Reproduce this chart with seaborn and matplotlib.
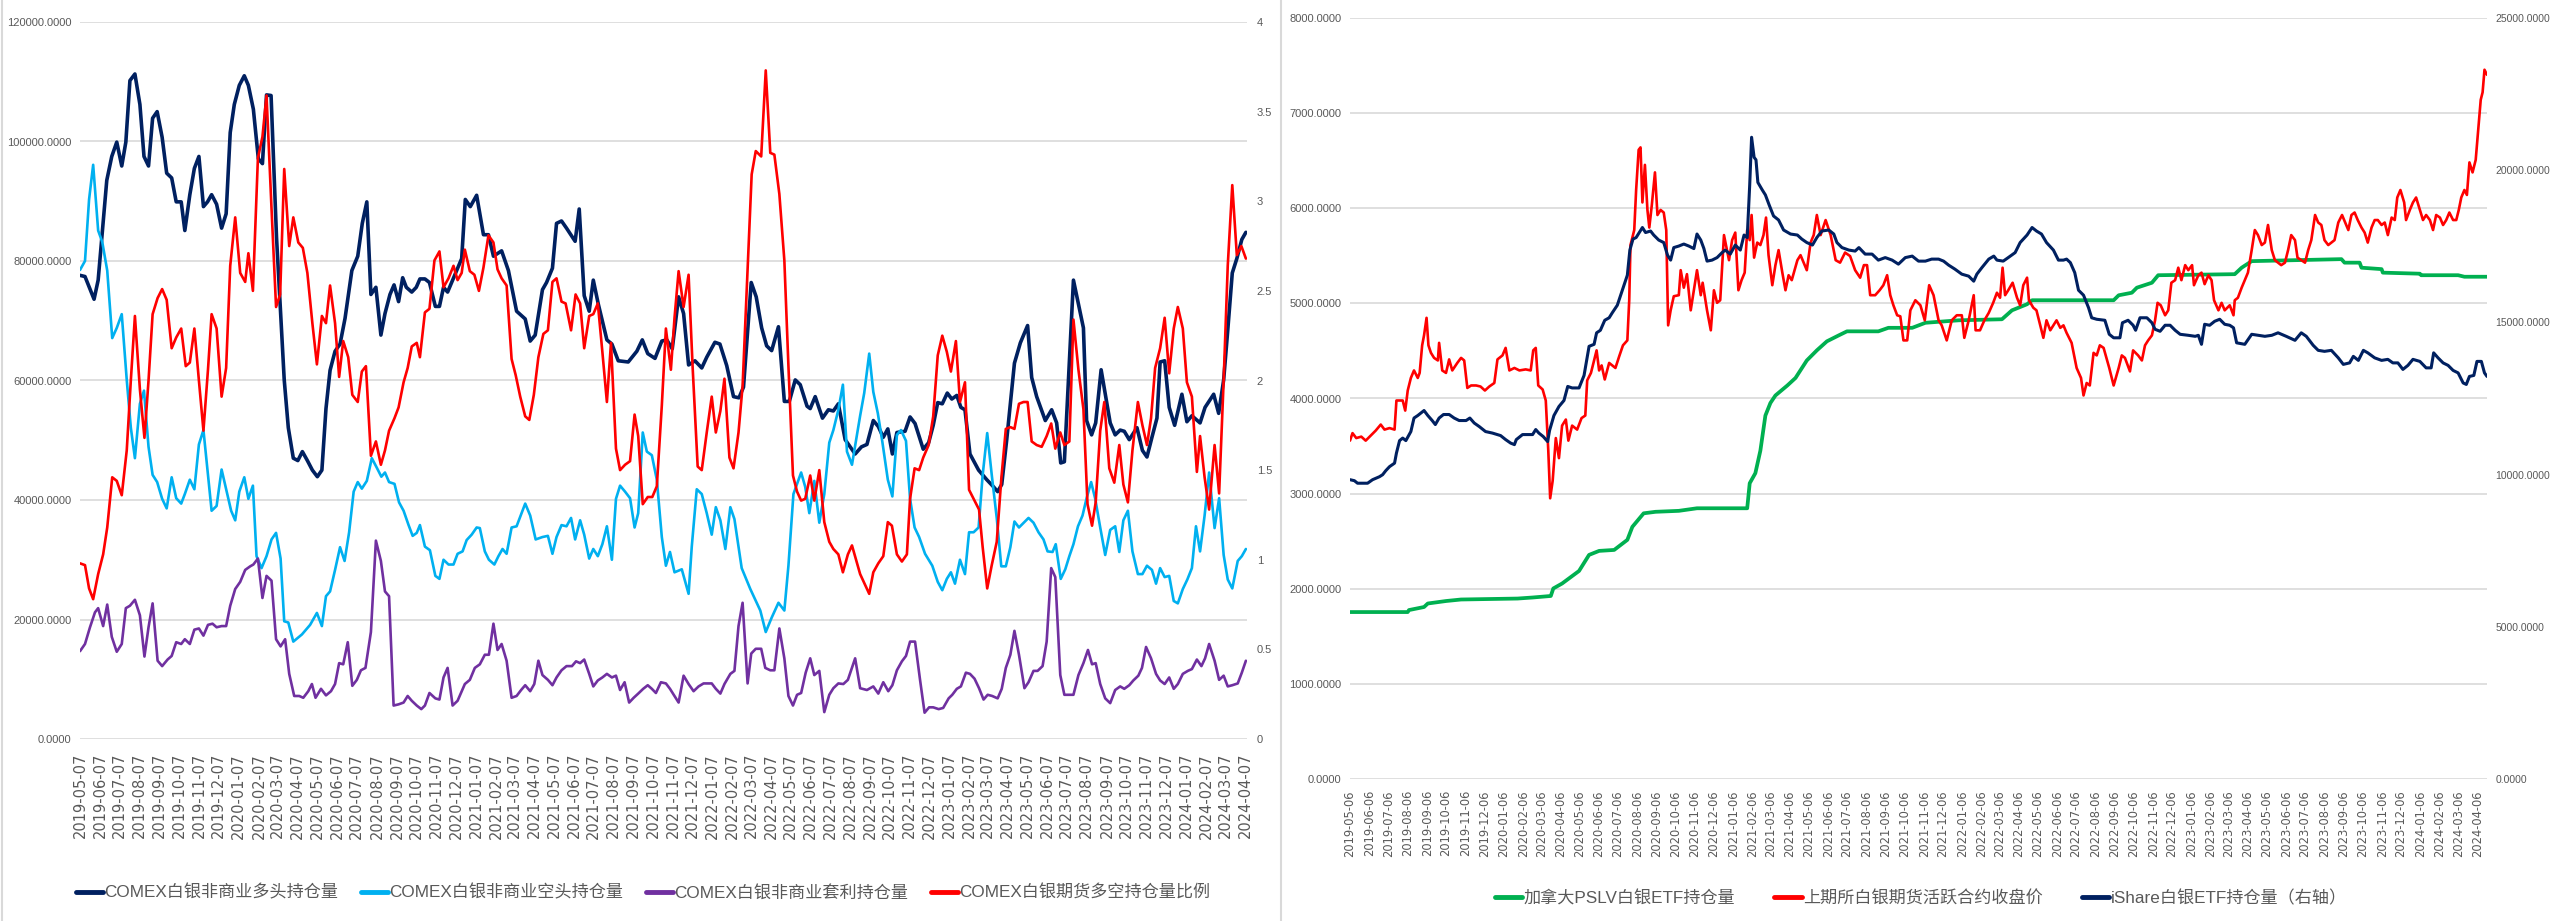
import matplotlib
matplotlib.use("Agg")
import matplotlib.pyplot as plt
from matplotlib.lines import Line2D
import seaborn as sns
import numpy as np
import pandas as pd

# ---------------- data: left chart (weekly, x = weeks since 2019-05-07) ----------------
L_START = "2019-05-07"

LONG_POS = [(0,77600),(1.1,77400),(3.1,73600),(4.0,76800),(5.9,93500),(7.0,97500),(8.1,99900),(9.2,95900),(10.1,99900),(11.0,110200),(12.1,111300),(13.2,106200),(14.1,97500),(15.1,95900),(16.0,103900),(17.0,105000),(18.1,100700),(19.1,94700),(20.2,93900),(21.2,89900),(22.3,89900),(23.1,85100),(24.2,91100),(25.2,95500),(26.2,97500),(27.2,89100),(28.1,89900),(29.0,91100),(30.1,89500),(31.2,85500),(32.2,87900),(33.1,101500),(34.0,106200),(35.1,109400),(36.2,111000),(37.1,109400),(38.2,105400),(39.3,97100),(40.2,96300),(41.1,107800),(42.1,107700),(43.3,84000),(45.0,60100),(45.9,52100),(47.0,47000),(48.0,46600),(49.0,48100),(50.1,46600),(51.2,45000),(52.3,43900),(53.3,45000),(54.2,55300),(55.1,61700),(56.2,64900),(57.3,66100),(58.4,70400),(59.9,78400),(61.2,80800),(62.2,86300),(63.2,89900),(64.1,74400),(65.2,75600),(66.3,67600),(67.2,71200),(68.3,74400),(69.2,76000),(70.2,73200),(71.1,77200),(71.9,75600),(73.1,74800),(74.1,75600),(74.9,77000),(76.0,77000),(77.0,76400),(78.3,72400),(79.2,72400),(80.1,75600),(81.0,74800),(83.0,78400),(84.1,80400),(84.9,90300),(86.0,89100),(87.4,91000),(88.9,84400),(90.0,84400),(91.1,80800),(92.9,81700),(94.4,78400),(96.2,71600),(98.1,70300),(99.2,66600),(100.3,67600),(101.9,75200),(102.8,76400),(104.1,78800),(105.0,86300),(106.1,86700),(107.2,85500),(109.1,83300),(110.0,88700),(111.1,74200),(112.2,71600),(113.1,76800),(114.2,72800),(116.1,66800),(117.2,66100),(118.6,63300),(120.8,63100),(122.7,64900),(123.9,66800),(125.1,64500),(126.7,63700),(128.2,66600),(129.3,66800),(130.5,65300),(131.9,74000),(133.0,71200),(134.1,62600),(135.5,63300),(137.0,62100),(138.1,63900),(139.9,66400),(141.0,66100),(142.5,62500),(144.0,57300),(145.2,57100),(146.2,58900),(147.9,76400),(149.0,74000),(150.2,68800),(151.3,65800),(152.4,65000),(153.9,69000),(155.2,56500),(156.3,56500),(157.6,60100),(158.7,59300),(160.2,55700),(160.9,55300),(162.0,57300),(163.6,53700),(164.9,55100),(166.0,54900),(167.1,56100),(168.6,50100),(170.8,47700),(172.2,48900),(173.4,49300),(174.8,53300),(175.9,52300),(177.0,50500),(178.0,51900),(179.0,47700),(180.0,51300),(181.8,51500),(182.9,53900),(184.0,52800),(185.8,48500),(187.0,49600),(188.0,52500),(189.0,56300),(190.0,56100),(191.1,57900),(192.1,56900),(193.2,57500),(194.1,55500),(195.0,55100),(196.1,47700),(198.0,45000),(199.8,43400),(201.3,42200),(202.2,41400),(203.1,42600),(204.2,50100),(205.9,62900),(207.2,66300),(208.8,69200),(209.7,60500),(210.8,57300),(212.7,53300),(214.1,55100),(215.2,52900),(216.1,46200),(216.9,46400),(218.9,76800),(220.0,72800),(221.1,68800),(221.8,53300),(222.9,50900),(223.8,52900),(225.0,61800),(226.0,57300),(227.0,52900),(228.1,50900),(229.2,51700),(230.1,51500),(231.2,50100),(232.9,52100),(234.1,48300),(235.1,47200),(236.2,50500),(237.3,53700),(238.0,63100),(239.0,63300),(240.0,55500),(241.2,52500),(242.8,57700),(243.9,53100),(245.0,54100),(246.8,52900),(247.9,55500),(249.8,57700),(250.9,54500),(252.0,60100),(252.9,68400),(253.9,78000),(254.9,80400),(256.0,83600),(256.9,84800)]

SHORT_POS = [(0,78500),(1.1,80000),(2.0,90300),(2.9,96100),(4.0,85100),(4.9,83200),(6.0,78400),(7.1,67100),(8.1,68800),(9.2,71100),(10.3,60100),(11.2,52100),(12.1,47000),(13.2,56100),(14.1,58300),(15.1,48900),(16.0,44200),(17.0,43000),(18.1,40200),(19.1,38600),(20.2,43800),(21.2,40300),(22.3,39400),(23.1,41000),(24.2,43400),(25.2,41800),(26.2,49300),(27.2,51700),(28.1,45000),(29.0,38200),(30.1,39000),(31.2,45100),(32.2,41800),(33.3,38200),(34.2,36600),(35.1,41400),(36.2,43800),(37.1,40200),(38.1,42400),(38.9,30600),(40.0,28600),(41.1,30600),(42.2,33400),(43.2,34500),(44.2,30200),(45.0,19700),(45.9,19500),(47.0,16300),(48.9,17500),(50.7,19100),(52.2,21100),(53.3,18900),(54.2,23900),(55.1,24700),(56.2,28300),(57.3,32100),(58.3,29800),(59.3,34600),(60.3,41400),(61.2,43000),(62.1,41900),(63.2,43200),(64.3,47000),(65.4,45400),(66.4,43900),(67.2,44600),(68.1,43000),(69.3,42700),(70.3,39600),(71.3,38200),(72.4,35800),(73.3,34000),(74.2,34500),(74.9,35800),(76.0,32200),(77.1,31600),(78.3,27300),(79.2,26800),(80.1,30000),(81.2,29200),(82.3,29200),(83.2,31000),(84.3,31400),(85.2,33300),(86.3,34200),(87.4,35400),(88.1,35300),(89.2,31400),(90.1,30000),(91.3,29200),(92.2,30600),(93.1,31800),(94.0,31000),(95.1,35400),(96.2,35600),(98.1,39400),(99.2,37400),(100.4,33400),(101.9,33800),(103.1,34000),(104.1,31000),(105.0,33800),(106.1,35800),(107.2,35600),(108.2,37000),(109.1,33400),(110.2,36600),(111.1,34200),(112.2,30200),(113.1,31800),(114.1,30600),(115.1,32600),(116.1,35600),(117.2,30000),(118.1,40200),(119.0,42400),(120.1,41400),(121.2,40300),(122.2,35400),(123.0,37800),(124.0,51300),(124.9,48100),(126.0,47500),(127.1,43400),(128.2,33800),(129.1,29000),(130.0,31300),(131.0,27900),(132.6,28400),(134.1,24300),(134.8,32200),(135.9,41800),(137.0,41000),(138.1,37800),(139.2,34200),(140.1,38800),(141.1,36600),(142.2,31800),(143.3,38800),(144.2,36800),(145.8,28600),(147.7,25100),(149.9,21500),(151.1,17900),(152.4,20300),(153.9,22800),(155.2,21500),(156.1,29000),(157.2,41000),(158.9,44600),(159.8,42200),(160.7,37800),(161.8,43200),(162.9,36200),(164.0,41000),(165.1,49600),(166.0,51700),(167.1,55100),(168.1,59300),(169.0,48100),(170.1,45900),(171.9,54100),(172.8,57900),(173.9,64500),(174.8,58100),(175.8,54500),(176.8,49700),(178.0,43400),(179.0,40600),(180.0,50900),(180.9,51700),(182.0,49900),(182.9,40200),(183.9,35400),(184.9,33800),(186.2,31000),(187.8,29000),(189.0,26300),(190.0,24900),(191.0,26800),(191.9,27900),(192.8,26000),(193.9,30000),(195.0,27600),(195.9,34600),(196.9,34600),(198.0,35400),(198.9,44200),(199.9,51200),(200.9,44200),(202.0,37000),(203.0,28900),(204.0,28900),(205.0,32100),(205.9,36400),(206.9,35400),(209.0,37000),(210.1,36200),(211.2,34600),(212.3,33400),(213.2,31400),(214.3,31300),(215.0,32600),(216.1,26800),(217.1,28400),(218.0,30600),(218.9,32600),(219.9,35600),(220.9,37400),(221.8,40300),(222.8,43000),(223.7,40200),(224.8,35400),(225.9,30800),(227.0,35000),(228.1,35600),(229.0,31300),(229.9,36600),(230.9,38200),(231.9,31400),(233.1,27600),(234.1,27600),(235.1,29000),(236.2,28300),(237.1,26000),(238.0,28600),(239.0,27100),(240.0,27300),(241.0,23100),(241.9,22700),(243.0,25100),(244.0,26700),(245.0,28600),(245.9,35600),(246.8,31400),(247.8,37400),(248.8,44600),(250.0,35300),(251.0,40300),(252.0,30800),(252.9,26700),(253.9,25200),(255.1,29800),(256.0,30600),(256.9,31800)]

SPREAD_POS = [(0,14700),(1.1,15900),(2.2,18700),(3.3,21200),(4.0,21900),(5.1,18900),(6.0,22500),(7.0,17100),(8.1,14600),(9.2,15900),(10.1,21900),(11.0,22300),(12.1,23300),(13.2,20700),(14.2,13800),(15.1,18700),(16.0,22700),(17.1,13100),(18.1,12200),(19.3,13300),(20.2,13900),(21.2,16200),(22.3,15900),(23.1,16700),(24.2,15900),(25.2,18300),(26.2,18500),(27.2,17300),(28.2,19100),(29.2,19300),(30.1,18700),(31.2,18900),(32.2,18900),(33.1,22300),(34.2,25100),(35.3,26300),(36.4,28300),(37.5,28900),(38.2,29200),(39.2,30200),(40.2,23600),(41.1,27300),(42.2,26500),(43.2,16700),(44.2,15500),(45.2,16700),(46.1,10900),(47.2,7200),(48.3,7200),(49.2,6900),(50.3,8000),(51.1,9200),(51.9,6900),(53.1,8400),(54.2,7300),(55.3,8000),(56.2,9200),(57.1,12700),(58.0,12500),(59.0,16200),(60.0,8900),(61.0,9900),(61.9,11500),(62.9,11900),(64.1,17900),(65.2,33200),(66.3,29800),(67.2,24700),(68.1,23900),(69.1,5600),(70.2,5800),(71.3,6100),(72.2,7200),(73.1,6400),(74.2,5600),(75.2,5000),(76.0,5600),(77.0,7700),(78.3,6800),(79.2,6600),(80.1,10300),(81.0,11900),(82.1,5600),(83.2,6400),(84.8,9200),(85.9,9900),(87.0,11900),(88.1,12500),(89.2,14100),(90.1,14100),(91.1,19300),(92.0,14900),(92.9,15900),(94.0,13100),(95.1,6900),(96.2,7200),(97.2,8200),(98.1,9000),(99.2,8000),(100.1,9200),(101.0,13100),(101.9,10700),(103.1,9900),(104.1,9000),(105.0,10300),(106.1,11500),(107.2,12200),(108.4,12200),(109.3,13000),(110.2,12700),(111.1,13300),(112.2,10900),(113.1,8800),(114.1,9800),(115.1,10300),(116.1,10900),(117.2,10300),(118.1,10600),(119.0,8200),(120.0,9500),(121.0,6100),(122.0,6900),(123.0,7600),(124.1,8400),(125.1,9000),(126.0,8400),(126.9,7700),(128.0,9500),(129.1,9300),(130.0,8400),(131.0,7200),(131.9,6100),(133.0,10600),(134.1,9200),(135.2,8000),(136.3,8800),(137.4,9300),(139.2,9300),(140.1,8400),(141.1,7600),(142.0,9200),(143.3,10900),(144.2,11400),(145.1,18900),(146.0,22800),(147.1,9300),(147.9,14300),(148.9,15100),(150.1,15100),(151.0,11900),(152.1,11500),(153.0,11500),(154.1,18500),(155.2,13500),(156.1,7200),(157.1,5600),(158.0,7400),(158.9,7700),(159.9,11100),(160.9,13500),(161.8,10700),(162.9,11400),(164.0,4500),(165.1,7400),(166.0,8500),(167.1,9300),(168.2,9200),(169.2,9900),(170.8,13500),(171.9,8500),(173.4,8200),(174.8,8800),(175.9,7600),(177.0,9500),(178.1,8000),(179.0,9000),(180.0,11500),(181.1,13000),(182.0,13900),(182.9,16300),(184.0,16300),(185.1,9900),(186.1,4400),(187.1,5300),(188.0,5300),(189.2,5000),(190.2,5200),(191.4,6800),(192.2,7400),(193.2,8400),(194.1,8800),(195.2,11100),(196.1,10900),(197.1,10100),(198.1,8500),(199.1,6600),(200.0,7400),(201.0,7200),(202.2,6800),(203.1,8400),(204.0,11900),(205.0,14100),(205.9,18100),(206.9,14100),(208.1,8500),(209.0,9500),(210.1,11400),(211.0,11400),(212.1,12200),(213.0,16300),(214.0,28600),(214.9,27100),(216.0,10700),(216.9,7400),(218.9,7400),(220.0,10700),(221.1,12700),(222.1,14900),(223.0,12500),(223.8,12700),(224.8,9200),(225.9,6800),(227.0,6000),(228.1,8200),(229.2,8800),(230.1,8400),(231.2,9000),(232.1,9800),(233.2,10600),(234.0,11900),(234.9,15400),(236.0,13500),(237.1,10900),(238.0,9800),(239.0,9200),(240.0,10300),(241.0,8400),(241.9,9200),(243.0,10900),(244.1,11400),(245.0,11700),(246.1,13300),(247.1,12200),(247.9,13500),(248.8,15900),(250.0,13100),(251.0,9900),(252.0,10600),(252.9,8800),(253.9,9000),(255.1,9300),(256.0,11100),(256.9,13100)]

LS_RATIO = [(0,0.98),(1.1,0.97),(2.0,0.84),(2.9,0.78),(4.0,0.92),(5.1,1.03),(6.0,1.18),(7.1,1.46),(8.1,1.44),(9.2,1.36),(10.3,1.61),(11.2,2.00),(12.1,2.36),(13.2,1.95),(14.2,1.68),(15.1,2.00),(16.0,2.37),(17.1,2.46),(18.1,2.51),(19.1,2.45),(20.2,2.18),(21.2,2.24),(22.3,2.29),(23.3,2.08),(24.2,2.10),(25.2,2.29),(26.2,2.00),(27.2,1.72),(28.2,2.06),(29.0,2.37),(30.1,2.29),(31.2,1.91),(32.2,2.07),(33.1,2.64),(34.2,2.91),(35.3,2.60),(36.4,2.55),(37.1,2.71),(38.1,2.50),(39.2,3.24),(40.2,3.36),(41.1,3.59),(42.2,2.96),(43.2,2.41),(44.1,2.48),(45.0,3.18),(46.1,2.75),(47.0,2.91),(48.1,2.77),(49.1,2.74),(50.1,2.60),(51.2,2.32),(52.2,2.09),(53.3,2.36),(54.2,2.32),(55.1,2.53),(56.2,2.32),(57.1,2.02),(58.0,2.22),(59.1,2.13),(60.0,1.92),(61.2,1.88),(62.1,2.05),(63.0,2.08),(64.1,1.58),(65.2,1.66),(66.3,1.53),(67.2,1.61),(68.1,1.72),(69.3,1.79),(70.2,1.85),(71.3,1.99),(72.2,2.07),(73.1,2.19),(74.2,2.21),(74.9,2.13),(76.0,2.38),(77.0,2.40),(78.1,2.67),(79.2,2.72),(80.1,2.52),(81.2,2.57),(82.3,2.64),(83.2,2.56),(84.1,2.60),(84.8,2.73),(85.9,2.61),(86.9,2.59),(87.9,2.50),(88.9,2.63),(90.0,2.81),(91.1,2.77),(92.0,2.62),(92.9,2.57),(94.0,2.53),(95.1,2.12),(96.0,2.03),(97.0,1.91),(98.1,1.80),(99.0,1.78),(100.0,1.92),(101.0,2.13),(102.1,2.26),(103.1,2.28),(104.1,2.55),(105.0,2.57),(106.1,2.44),(107.0,2.43),(108.2,2.28),(109.2,2.48),(110.2,2.43),(111.1,2.18),(112.2,2.36),(113.1,2.37),(114.1,2.43),(115.1,2.16),(116.1,1.88),(117.0,2.21),(118.1,1.62),(119.0,1.50),(120.1,1.53),(121.2,1.55),(122.2,1.81),(123.0,1.69),(124.0,1.31),(125.1,1.35),(126.1,1.35),(127.1,1.41),(128.2,1.86),(129.1,2.29),(130.2,2.06),(131.0,2.35),(131.9,2.61),(133.0,2.41),(134.1,2.59),(135.0,2.07),(136.1,1.52),(137.0,1.50),(138.1,1.71),(139.2,1.91),(140.1,1.71),(141.1,1.83),(142.0,2.01),(143.1,1.57),(144.0,1.51),(145.1,1.71),(146.0,1.97),(147.0,2.56),(148.0,3.15),(148.9,3.28),(150.1,3.25),(151.1,3.73),(152.1,3.27),(153.0,3.26),(154.1,3.04),(155.2,2.67),(156.1,2.08),(157.1,1.47),(158.0,1.38),(158.9,1.33),(159.8,1.34),(160.9,1.47),(161.8,1.33),(162.9,1.50),(164.0,1.21),(165.1,1.10),(166.0,1.06),(167.1,1.03),(168.1,0.93),(169.2,1.03),(170.1,1.08),(171.9,0.92),(172.8,0.87),(173.9,0.81),(174.8,0.93),(175.9,0.98),(177.0,1.02),(178.0,1.21),(178.9,1.19),(180.0,1.03),(181.1,0.99),(182.2,1.03),(182.9,1.34),(183.9,1.51),(184.9,1.50),(185.8,1.57),(187.0,1.64),(188.0,1.80),(189.0,2.14),(190.0,2.25),(191.0,2.16),(191.9,2.05),(193.0,2.22),(193.9,1.88),(195.0,1.99),(195.9,1.39),(197.1,1.33),(198.1,1.28),(198.9,1.07),(199.9,0.84),(200.9,0.97),(202.0,1.10),(203.0,1.45),(204.0,1.73),(205.0,1.74),(205.9,1.73),(206.9,1.87),(207.9,1.88),(208.8,1.88),(209.7,1.66),(210.8,1.64),(211.9,1.63),(213.0,1.69),(214.0,1.76),(214.9,1.62),(216.0,1.71),(216.9,1.64),(218.0,1.66),(218.9,2.34),(220.0,2.06),(221.1,1.84),(222.0,1.31),(223.0,1.19),(223.8,1.32),(224.8,1.72),(225.7,1.88),(226.8,1.51),(227.9,1.43),(229.0,1.64),(229.9,1.42),(230.9,1.32),(231.9,1.61),(233.1,1.88),(234.1,1.75),(235.1,1.64),(236.0,1.79),(236.9,2.07),(238.0,2.18),(239.0,2.35),(240.0,2.04),(241.0,2.29),(241.9,2.41),(243.0,2.29),(243.9,1.99),(245.0,1.91),(246.1,1.49),(246.8,1.69),(247.8,1.46),(248.8,1.28),(250.0,1.64),(251.0,1.37),(252.0,2.00),(252.9,2.64),(253.9,3.09),(254.9,2.70),(255.9,2.75),(256.9,2.68)]

L_LABELS = ["COMEX白银非商业多头持仓量", "COMEX白银非商业空头持仓量",
            "COMEX白银非商业套利持仓量", "COMEX白银期货多空持仓量比例"]

# ---------------- data: right chart (daily, x = days since 2019-05-06) ----------------
R_START = "2019-05-06"

PSLV_HOLD = [(0,1755),(92,1755),(94,1776),(118,1808),(124,1845),(153,1871),(177,1887),(267,1897),(291,1908),(320,1924),(324,2003),(338,2055),(365,2187),(381,2356),(397,2398),(421,2408),(442,2514),(450,2651),(468,2793),(487,2809),(524,2819),(553,2846),(633,2846),(637,3109),(646,3215),(654,3452),(662,3821),(670,3953),(678,4032),(697,4137),(710,4216),(728,4400),(744,4506),(760,4601),(779,4664),(792,4706),(842,4706),(858,4743),(896,4743),(917,4796),(970,4822),(1039,4833),(1055,4927),(1079,4991),(1087,5033),(1217,5033),(1225,5085),(1246,5112),(1254,5165),(1278,5217),(1288,5296),(1410,5307),(1421,5375),(1437,5444),(1580,5465),(1585,5428),(1609,5428),(1612,5375),(1644,5360),(1646,5323),(1705,5312),(1707,5296),(1766,5296),(1776,5280),(1812,5280)]

SHFE_CLOSE = [(0,3557),(4,3636),(10,3584),(18,3599),(25,3557),(33,3610),(41,3663),(49,3726),(55,3673),(63,3689),(71,3673),(74,3979),(84,3979),(88,3873),(92,4084),(97,4216),(102,4295),(108,4216),(111,4269),(115,4559),(118,4664),(122,4848),(125,4559),(129,4480),(134,4427),(140,4400),(142,4585),(147,4295),(153,4269),(158,4411),(163,4295),(171,4374),(177,4427),(182,4400),(187,4111),(193,4137),(201,4137),(208,4126),(215,4084),(222,4126),(230,4163),(235,4411),(243,4453),(248,4532),(254,4295),(262,4321),(270,4295),(280,4306),(288,4295),(292,4506),(296,4532),(300,4137),(307,4095),(312,3979),(316,3452),(319,2951),(323,3136),(328,3584),(333,3373),(338,3715),(344,3779),(348,3557),(354,3715),(362,3673),(369,3794),(375,3821),(378,4190),(384,4269),(389,4400),(393,4506),(397,4295),(401,4348),(406,4200),(413,4374),(423,4321),(429,4443),(435,4559),(442,4611),(445,5033),(447,5613),(453,5771),(456,6192),(460,6614),(463,6640),(466,6061),(470,6456),(474,5982),(477,5797),(481,6034),(486,6377),(490,5929),(495,5982),(500,5955),(504,5771),(507,4769),(511,4927),(516,5075),(524,5086),(527,5349),(532,5165),(537,5307),(543,4927),(548,5138),(553,5349),(559,5086),(562,5217),(569,4927),(575,4717),(580,5138),(585,5006),(590,5033),(596,5718),(604,5454),(609,5665),(614,5744),(619,5138),(624,5244),(629,5323),(633,5771),(637,5665),(640,5929),(644,5481),(649,5639),(654,5613),(659,5718),(663,5902),(667,5507),(673,5191),(678,5402),(683,5560),(689,5323),(694,5138),(699,5296),(704,5244),(713,5454),(718,5507),(723,5428),(728,5349),(734,5639),(739,5718),(744,5929),(750,5718),(758,5876),(766,5718),(774,5454),(781,5428),(789,5534),(797,5497),(805,5349),(813,5270),(819,5402),(824,5402),(829,5086),(837,5086),(844,5138),(850,5191),(856,5296),(861,5086),(866,4980),(872,4875),(877,4864),(882,4611),(888,4611),(893,4927),(901,5033),(909,4980),(916,4822),(923,5191),(930,5086),(938,4822),(943,4769),(951,4611),(959,4822),(967,4875),(975,4875),(979,4638),(986,4822),(994,5086),(997,4717),(1004,4717),(1011,4822),(1018,4901),(1025,5006),(1031,5112),(1036,5059),(1040,5375),(1044,5086),(1049,5138),(1056,5217),(1063,5059),(1068,4980),(1073,5191),(1079,5270),(1082,5033),(1089,4954),(1094,4927),(1100,4769),(1105,4638),(1110,4822),(1116,4717),(1121,4769),(1126,4822),(1132,4743),(1137,4769),(1142,4690),(1150,4585),(1158,4321),(1165,4216),(1169,4032),(1174,4163),(1179,4137),(1185,4480),(1190,4453),(1195,4559),(1201,4532),(1210,4321),(1217,4137),(1225,4321),(1230,4453),(1235,4427),(1243,4285),(1248,4506),(1256,4453),(1262,4400),(1267,4559),(1272,4611),(1278,4664),(1283,4822),(1287,5006),(1292,4980),(1299,4875),(1304,4927),(1309,5217),(1315,5244),(1320,5375),(1325,5244),(1331,5402),(1336,5349),(1342,5402),(1345,5191),(1352,5296),(1357,5323),(1362,5202),(1368,5296),(1373,5244),(1377,5033),(1384,4927),(1389,5006),(1394,4927),(1402,4980),(1408,4875),(1410,5033),(1415,5059),(1421,5165),(1426,5244),(1431,5323),(1437,5560),(1442,5771),(1447,5718),(1453,5613),(1458,5639),(1463,5824),(1469,5560),(1474,5454),(1479,5428),(1484,5402),(1490,5428),(1495,5560),(1500,5718),(1506,5665),(1510,5481),(1516,5454),(1522,5428),(1527,5560),(1532,5665),(1538,5929),(1543,5850),(1548,5824),(1553,5665),(1559,5613),(1564,5639),(1569,5665),(1575,5850),(1581,5929),(1586,5850),(1591,5771),(1596,5929),(1601,5955),(1606,5876),(1612,5797),(1617,5744),(1622,5639),(1628,5797),(1633,5876),(1638,5876),(1644,5824),(1649,5850),(1654,5718),(1660,5902),(1665,5876),(1669,6113),(1674,6192),(1680,6061),(1683,5876),(1689,5982),(1694,6061),(1699,6113),(1705,5982),(1710,5876),(1715,5929),(1721,5876),(1726,5771),(1731,5929),(1737,5902),(1742,5824),(1747,5876),(1752,5955),(1758,5876),(1763,5876),(1767,5982),(1771,6113),(1776,6192),(1780,6140),(1784,6482),(1789,6377),(1794,6509),(1797,6745),(1802,7140),(1805,7219),(1808,7456),(1812,7403)]

ISHARE_HOLD = [(0,9833),(7,9800),(12,9717),(28,9717),(36,9833),(47,9931),(52,9997),(57,10129),(63,10261),(71,10376),(74,10706),(79,11117),(84,11200),(89,11117),(97,11414),(102,11858),(108,11941),(113,12023),(118,12105),(124,11941),(131,11776),(136,11644),(142,11858),(149,11974),(158,11974),(166,11858),(174,11776),(185,11776),(191,11858),(198,11694),(206,11578),(216,11414),(227,11364),(240,11282),(248,11150),(256,11035),(262,10985),(265,11150),(275,11315),(291,11315),(296,11480),(301,11364),(308,11249),(315,11084),(318,11447),(325,11941),(333,12237),(341,12435),(347,12896),(354,12847),(365,12847),(373,13258),(381,14214),(389,14280),(393,14658),(399,14741),(406,15070),(413,15152),(418,15317),(426,15564),(434,16058),(442,16552),(446,17376),(451,17738),(456,17788),(461,17952),(466,18117),(471,17952),(479,18002),(484,17870),(492,17705),(500,17623),(506,17211),(511,17046),(516,17458),(524,17508),(532,17574),(540,17508),(548,17425),(553,17903),(559,17705),(564,17425),(569,17013),(577,17046),(585,17129),(593,17293),(598,17376),(606,17244),(614,17541),(622,17376),(628,17870),(633,17788),(637,19517),(640,21082),(644,20423),(647,20340),(650,19599),(657,19352),(662,19188),(668,18858),(675,18496),(683,18364),(691,18035),(702,17903),(713,17870),(720,17738),(728,17623),(737,17541),(744,17788),(752,18002),(763,18035),(771,17903),(776,17623),(784,17458),(795,17376),(805,17343),(811,17458),(821,17244),(832,17244),(842,17046),(853,17129),(864,17046),(874,16914),(885,17129),(896,17178),(906,17013),(917,17013),(927,17079),(938,17079),(946,17013),(954,16882),(964,16750),(975,16585),(986,16519),(994,16354),(999,16585),(1007,16799),(1018,17079),(1026,17178),(1031,17046),(1041,17013),(1049,17129),(1060,17293),(1068,17623),(1079,17870),(1087,18117),(1094,18002),(1102,17903),(1110,17623),(1121,17376),(1129,17046),(1137,17046),(1142,17079),(1148,16964),(1155,16635),(1161,16058),(1169,15893),(1177,15482),(1182,15152),(1190,15103),(1203,15070),(1210,14609),(1217,14494),(1227,14494),(1231,14988),(1240,15070),(1248,14906),(1252,14741),(1259,15152),(1270,15152),(1278,14988),(1283,14774),(1291,14708),(1299,14906),(1307,14906),(1315,14741),(1323,14609),(1336,14576),(1347,14543),(1352,14576),(1357,14280),(1362,14938),(1370,14906),(1378,15037),(1386,15103),(1394,14938),(1402,14906),(1408,14823),(1413,14329),(1426,14280),(1437,14609),(1447,14576),(1458,14543),(1469,14576),(1479,14658),(1492,14543),(1506,14411),(1516,14658),(1524,14543),(1535,14247),(1543,14082),(1553,14049),(1564,14082),(1575,13835),(1583,13621),(1593,13670),(1599,13884),(1607,13752),(1615,14082),(1622,14000),(1633,13835),(1644,13752),(1654,13786),(1662,13670),(1670,13670),(1678,13456),(1686,13588),(1694,13786),(1705,13719),(1715,13506),(1723,13506),(1727,14000),(1734,13835),(1742,13670),(1750,13588),(1758,13423),(1766,13341),(1774,13011),(1779,12962),(1784,13225),(1791,13258),(1796,13719),(1803,13719),(1808,13341),(1812,13225)]

R_LABELS = ["加拿大PSLV白银ETF持仓量", "上期所白银期货活跃合约收盘价", "iShare白银ETF持仓量（右轴）"]

# ---------------- style ----------------
NAVY = "#002060"
SKY = "#00B0F0"
PURPLE = "#7030A0"
RED = "#FF0000"
GREEN = "#00B050"
GRID = "#D9D9D9"
TXT = "#595959"

sns.set_theme(style="white")
plt.rcParams["font.family"] = ["Liberation Sans", "Noto Sans CJK SC", "DejaVu Sans"]

W, H = 2552, 921
fig = plt.figure(figsize=(W / 100, H / 100), dpi=100)


def to_frame(pairs, start, unit):
    t, v = zip(*pairs)
    x = pd.Timestamp(start) + pd.to_timedelta(np.array(t) * unit, unit="D")
    return pd.DataFrame({"date": x, "value": v})


def draw(ax, pairs, start, unit, color, lw):
    df = to_frame(pairs, start, unit)
    sns.lineplot(data=df, x="date", y="value", ax=ax, color=color,
                 linewidth=lw, legend=False, estimator=None)


def clean(ax):
    for s in ax.spines.values():
        s.set_visible(False)
    ax.set_xlabel("")
    ax.set_ylabel("")
    ax.tick_params(length=0, colors=TXT, labelsize=8)


def px_box(x0, y0, x1, y1):
    return [x0 / W, 1 - y1 / H, (x1 - x0) / W, (y1 - y0) / H]


# ==================
# Left chart
# ==================
ax1 = fig.add_axes(px_box(80, 22, 1247, 739))
ax1b = ax1.twinx()

draw(ax1, LONG_POS, L_START, 7, NAVY, 2.6)
draw(ax1, SHORT_POS, L_START, 7, SKY, 1.9)
draw(ax1, SPREAD_POS, L_START, 7, PURPLE, 1.9)
draw(ax1b, LS_RATIO, L_START, 7, RED, 1.9)

l0 = pd.Timestamp(L_START)
ax1.set_xlim(l0, l0 + pd.Timedelta(days=1800))
ax1.set_ylim(0, 120000)
ax1.set_yticks(np.arange(0, 120001, 20000))
ax1.set_yticklabels([f"{v:.4f}" for v in np.arange(0, 120001, 20000)])
ax1b.set_ylim(0, 4)
ax1b.set_yticks(np.arange(0, 4.01, 0.5))
ax1b.set_yticklabels([f"{v:g}" for v in np.arange(0, 4.01, 0.5)])
ax1.grid(axis="y", color=GRID, linewidth=1.2)
ax1.grid(axis="x", visible=False)
ax1.set_axisbelow(True)

l_ticks = pd.date_range("2019-05-01", "2024-04-01", freq="MS") + pd.Timedelta(days=6)
ax1.set_xticks(l_ticks)
ax1.set_xticklabels([d.strftime("%Y-%m-%d") for d in l_ticks], rotation=90,
                    family="DejaVu Sans")
for a in (ax1, ax1b):
    clean(a)
ax1.tick_params(axis="y", pad=6)
ax1.tick_params(axis="x", pad=10, labelsize=10.5)
ax1b.tick_params(axis="y", pad=7)

# ==================
# Right chart
# ==================
ax2 = fig.add_axes(px_box(1350, 18, 2487, 779))
ax2b = ax2.twinx()

draw(ax2, PSLV_HOLD, R_START, 1, GREEN, 2.7)
draw(ax2, SHFE_CLOSE, R_START, 1, RED, 1.9)
draw(ax2b, ISHARE_HOLD, R_START, 1, NAVY, 2.2)

r0 = pd.Timestamp(R_START)
ax2.set_xlim(r0, r0 + pd.Timedelta(days=1812))
ax2.set_ylim(0, 8000)
ax2.set_yticks(np.arange(0, 8001, 1000))
ax2.set_yticklabels([f"{v:.4f}" for v in np.arange(0, 8001, 1000)])
ax2b.set_ylim(0, 25000)
ax2b.set_yticks(np.arange(0, 25001, 5000))
ax2b.set_yticklabels([f"{v:.4f}" for v in np.arange(0, 25001, 5000)])
ax2.grid(axis="y", color=GRID, linewidth=1.2)
ax2.grid(axis="x", visible=False)
ax2.set_axisbelow(True)

r_ticks = pd.date_range("2019-05-01", "2024-04-01", freq="MS") + pd.Timedelta(days=5)
ax2.set_xticks(r_ticks)
ax2.set_xticklabels([d.strftime("%Y-%m-%d") for d in r_ticks], rotation=90,
                    family="DejaVu Sans")
for a in (ax2, ax2b):
    clean(a)
ax2.tick_params(axis="y", pad=6)
ax2.tick_params(axis="x", pad=8, labelsize=8.3)
ax2b.tick_params(axis="y", pad=6, labelsize=7.5)

# ==================
# Legends and separators
# ==================
l_handles = [Line2D([], [], color=c, lw=3.5) for c in (NAVY, SKY, PURPLE, RED)]
fig.legend(l_handles, L_LABELS, loc="center", bbox_to_anchor=(0.252, 0.031),
           ncol=4, frameon=False, fontsize=12.3, handlelength=1.6,
           handletextpad=0.08, columnspacing=1.3, labelcolor=TXT)

r_handles = [Line2D([], [], color=c, lw=3.5) for c in (GREEN, RED, NAVY)]
fig.legend(r_handles, R_LABELS, loc="center", bbox_to_anchor=(0.7527, 0.025),
           ncol=3, frameon=False, fontsize=12.3, handlelength=1.6,
           handletextpad=0.08, columnspacing=2.3, labelcolor=TXT)

for xp in (2, 1281):
    fig.add_artist(Line2D([xp / W, xp / W], [0, 1], transform=fig.transFigure,
                          color=GRID, lw=1.5))

fig.savefig("out.png", dpi=100)
